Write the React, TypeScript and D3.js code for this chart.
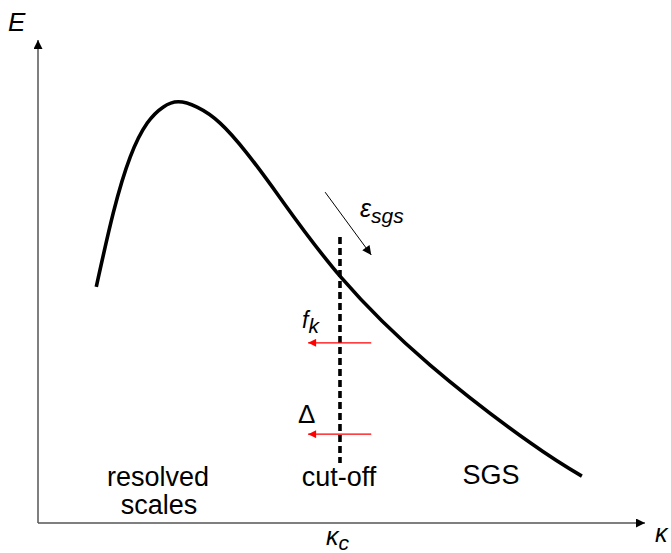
import React from 'react';
import * as d3 from 'd3';

// spectrum E(kappa) (axis units 0..100)
const kappa = [9.6, 12.4, 15.2, 18.0, 20.6, 23.1, 26.2, 30.0, 34.4, 39.9, 49.9, 64.6, 81.1, 89.6];
const energy = [48.9, 64.2, 75.8, 82.8, 86.1, 87.2, 86.1, 82.8, 76.6, 67.3, 50.9, 32.7, 16.6, 9.7];

const cutoff = 49.75;
const cutoffRange = [12.4, 59.2];
const transferLevels = [37.3, 18.4]; // f_k, Delta
const transferFrom = 54.9;
const transferTo = 44.5;
const epsArrow = [[47.3, 68.5], [54.9, 55.5]];

const W = 671;
const H = 553;
const font = 'Liberation Sans, Arial, Helvetica, sans-serif';

export default function App() {
  const x = d3.scaleLinear().domain([0, 100]).range([38, 645]);
  const y = d3.scaleLinear().domain([0, 100]).range([523, 40]);

  const pts: [number, number][] = kappa.map((k, i) => [k, energy[i]]);
  const line = d3.line<[number, number]>()
    .x(d => x(d[0]))
    .y(d => y(d[1]))
    .curve(d3.curveNatural);

  const x0 = x(0);
  const y0 = y(0);

  return (
    <div style={{ position: 'absolute', left: 0, top: 0 }}>
      <svg width={W} height={H} style={{ display: 'block', background: '#fff' }}>
        <defs>
          <marker id="axhead" viewBox="0 0 10 10" refX="10" refY="5" markerWidth="10" markerHeight="9" markerUnits="userSpaceOnUse" orient="auto">
            <path d="M0,0 L10,5 L0,10 Z" fill="#000" />
          </marker>
          <marker id="bhead" viewBox="0 0 10 10" refX="10" refY="5" markerWidth="11" markerHeight="9" markerUnits="userSpaceOnUse" orient="auto">
            <path d="M0,0 L10,5 L0,10 Z" fill="#000" />
          </marker>
          <marker id="rhead" viewBox="0 0 10 10" refX="10" refY="5" markerWidth="11" markerHeight="8" markerUnits="userSpaceOnUse" orient="auto">
            <path d="M0,0 L10,5 L0,10 Z" fill="#ff0000" />
          </marker>
        </defs>

        {/* axes */}
        <line x1={x0} y1={y0} x2={x0} y2={y(100)} stroke="#555" strokeWidth={1.5} markerEnd="url(#axhead)" />
        <line x1={x0} y1={y0} x2={x(100)} y2={y0} stroke="#555" strokeWidth={1.5} markerEnd="url(#axhead)" />

        {/* spectrum */}
        <path d={line(pts) || ''} fill="none" stroke="#000" strokeWidth={3.6} strokeLinecap="butt" />

        {/* cut-off */}
        <line x1={x(cutoff)} x2={x(cutoff)} y1={y(cutoffRange[1])} y2={y(cutoffRange[0])}
          stroke="#000" strokeWidth={3.6} strokeDasharray="7,4" />

        {/* transfer arrows */}
        {transferLevels.map((e, i) => (
          <line key={i} x1={x(transferFrom)} x2={x(transferTo)} y1={y(e)} y2={y(e)}
            stroke="#ff0000" strokeWidth={1.2} markerEnd="url(#rhead)" />
        ))}

        {/* dissipation arrow */}
        <line x1={x(epsArrow[0][0])} y1={y(epsArrow[0][1])} x2={x(epsArrow[1][0])} y2={y(epsArrow[1][1])}
          stroke="#000" strokeWidth={1} markerEnd="url(#bhead)" />

        <g fontFamily={font} fill="#000">
          <text x={8} y={31} fontSize={26} fontStyle="italic">E</text>
          <text x={655} y={542} fontSize={25} fontStyle="italic">κ</text>
          <text x={326} y={545} fontSize={25} fontStyle="italic">κ<tspan fontSize={21} dy={5}>c</tspan></text>
          <text x={360} y={217} fontSize={25} fontStyle="italic">ε<tspan fontSize={21} dy={6}>sgs</tspan></text>
          <text x={302} y={328} fontSize={23} fontStyle="italic">f<tspan fontSize={21} dy={5}>k</tspan></text>
          <text x={298} y={423} fontSize={26}>Δ</text>
          <text x={158} y={486} fontSize={27} textAnchor="middle">resolved</text>
          <text x={159} y={514} fontSize={27} textAnchor="middle">scales</text>
          <text x={339} y={486} fontSize={27} textAnchor="middle">cut-off</text>
          <text x={491} y={484} fontSize={27} textAnchor="middle">SGS</text>
        </g>
      </svg>
    </div>
  );
}
